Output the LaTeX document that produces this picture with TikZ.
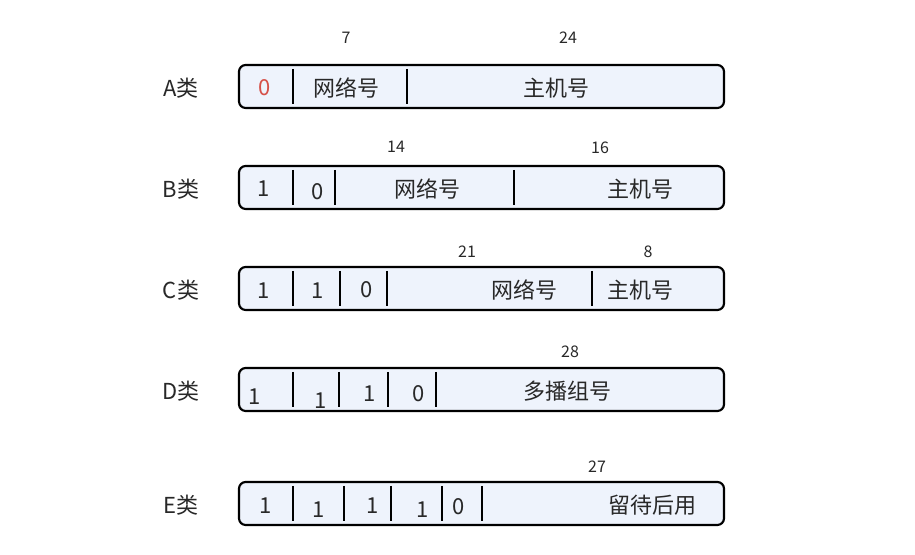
\documentclass[tikz,border=0pt]{standalone}
\usepackage{fontspec}
\setmainfont{Noto Sans CJK SC}
\definecolor{boxfill}{RGB}{238,243,252}
\definecolor{txt}{RGB}{40,40,40}
\definecolor{redtxt}{RGB}{214,80,72}
\begin{document}
\begin{tikzpicture}[x=0.75pt,y=-0.75pt,
  fieldbox/.style={draw=black,fill=boxfill,line width=1.6pt,rounded corners=5pt,
    minimum width=363.75pt,minimum height=32.25pt,inner sep=0pt},
  divider/.style={line width=1.6pt,black},
  cell/.style={font=\fontsize{16.5}{19}\selectfont,text=txt,inner sep=0pt},
  bits/.style={font=\fontsize{12}{14}\selectfont,text=txt,inner sep=0pt},
  rowlabel/.style={font=\fontsize{16.5}{19}\selectfont,text=txt,inner sep=0pt}]
\useasboundingbox (0,0) rectangle (915,555);

% Row A
\node[rowlabel] (labA) at (181,88) {A类};
\node[fieldbox] (boxA) at (481.5,86.5) {};
\draw[divider] (293,69) -- (293,104);
\draw[divider] (407,69) -- (407,104);
\node[cell,text=redtxt] (a0) at (265,88) {0};
\node[cell] (anet) at (346,88) {网络号};
\node[cell] (ahost) at (556,88) {主机号};
\node[bits] (a7) at (346,38) {7};
\node[bits] (a24) at (568,38) {24};

% Row B
\node[rowlabel] (labB) at (181,189) {B类};
\node[fieldbox] (boxB) at (481.5,187.5) {};
\draw[divider] (293,170) -- (293,205);
\draw[divider] (335,170) -- (335,205);
\draw[divider] (514,170) -- (514,205);
\node[cell] (b1) at (264,189) {1};
\node[cell] (b0) at (318,192) {0};
\node[cell] (bnet) at (427,189) {网络号};
\node[cell] (bhost) at (640,189) {主机号};
\node[bits] (b14) at (396,147) {14};
\node[bits] (b16) at (600,148) {16};

% Row C
\node[rowlabel] (labC) at (181,290) {C类};
\node[fieldbox] (boxC) at (481.5,288.5) {};
\draw[divider] (293,271) -- (293,306);
\draw[divider] (340,271) -- (340,306);
\draw[divider] (387,271) -- (387,306);
\draw[divider] (592,271) -- (592,306);
\node[cell] (c1a) at (264,291) {1};
\node[cell] (c1b) at (318,291) {1};
\node[cell] (c0) at (367,290) {0};
\node[cell] (cnet) at (524,290) {网络号};
\node[cell] (chost) at (640,290) {主机号};
\node[bits] (c21) at (467,252) {21};
\node[bits] (c8) at (648,252) {8};

% Row D
\node[rowlabel] (labD) at (181,391) {D类};
\node[fieldbox] (boxD) at (481.5,389.5) {};
\draw[divider] (293,372) -- (293,407);
\draw[divider] (339,372) -- (339,407);
\draw[divider] (388,372) -- (388,407);
\draw[divider] (436,372) -- (436,407);
\node[cell] (d1a) at (255,397) {1};
\node[cell] (d1b) at (321,401) {1};
\node[cell] (d1c) at (370,394) {1};
\node[cell] (d0) at (419,394) {0};
\node[cell] (dmc) at (567,391) {多播组号};
\node[bits] (d28) at (570,352) {28};

% Row E
\node[rowlabel] (labE) at (181,505) {E类};
\node[fieldbox] (boxE) at (481.5,503.5) {};
\draw[divider] (293,486) -- (293,521);
\draw[divider] (344,486) -- (344,521);
\draw[divider] (391,486) -- (391,521);
\draw[divider] (442,486) -- (442,521);
\draw[divider] (482,486) -- (482,521);
\node[cell] (e1a) at (266,506) {1};
\node[cell] (e1b) at (319,510) {1};
\node[cell] (e1c) at (373,506) {1};
\node[cell] (e1d) at (423,510) {1};
\node[cell] (e0) at (459,507) {0};
\node[cell] (eres) at (652,505) {留待后用};
\node[bits] (e27) at (597,467) {27};
\end{tikzpicture}
\end{document}
